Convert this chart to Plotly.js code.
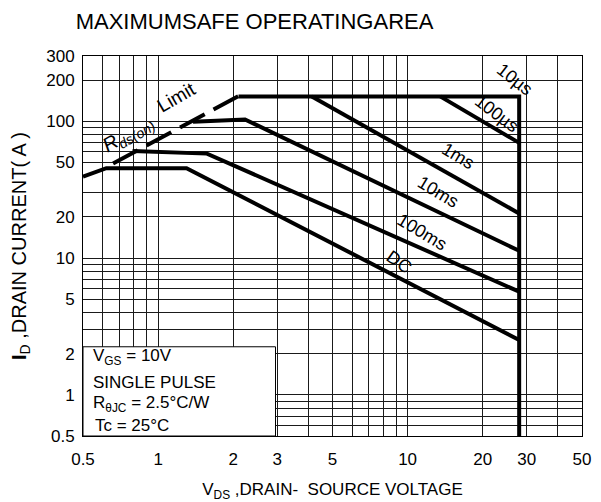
<!DOCTYPE html>
<html>
<head>
<meta charset="utf-8">
<script src="https://cdn.plot.ly/plotly-3.0.1.min.js"></script>
<style>html,body{margin:0;padding:0;background:#fff;}#chart{width:601px;height:502px;}</style>
</head>
<body>
<div id="chart"></div>
<script>
// ---- data (V in volts, I in amperes) ----
const vDC = [0.5, 0.62, 1.30, 28];
const iDC = [39.3, 45.4, 45.4, 2.52];
const v100ms = [0.79, 1.57, 28];
const i100ms = [60.5, 58, 5.68];
const v10ms = [1.38, 2.23, 28];
const i10ms = [99, 103, 11.3];
const v1ms = [4.13, 28];
const i1ms = [152, 21.2];
const v100us = [13.5, 28];
const i100us = [152, 69.5];
const v10us = [2.10, 28, 28];
const i10us = [152, 152, 0.5];
const vRds = [0.66, 2.10];
const iRds = [49.2, 153];

const xTickVals = [0.5, 1, 2, 3, 5, 10, 20, 30, 50];
const xTickText = ['0.5', '1', '2', '3', '5', '10', '20', '30', '50'];
const xMinorVals = [0.6, 0.7, 0.8, 0.9, 4, 6, 7, 8, 9, 40];
const yTickVals = [0.5, 1, 2, 5, 10, 20, 50, 100, 200, 300];
const yTickText = ['0.5', '1', '2', '5', '10', '20', '50', '100', '200', '300'];
const yMinorVals = [0.6, 0.7, 0.8, 0.9, 3, 4, 6, 7, 8, 9, 30, 60, 70, 80, 90];

const curveLabels = ['10µs', '100µs', '1ms', '10ms', '100ms', 'DC'];
const noteLines = ['V<sub>GS</sub> = 10V', 'SINGLE PULSE', 'R<sub>θJC</sub> = 2.5°C/W', 'Tc = 25°C'];

// ---- drawing ----
const FONT = 'Liberation Sans, Arial, sans-serif';
const solid = (x, y) => ({x: x, y: y, type: 'scatter', mode: 'lines',
  line: {color: '#000', width: 4}, hoverinfo: 'skip', showlegend: false});

const traces = [
  solid(vDC, iDC), solid(v100ms, i100ms), solid(v10ms, i10ms),
  solid(v1ms, i1ms), solid(v100us, i100us), solid(v10us, i10us),
  {x: vRds, y: iRds, type: 'scatter', mode: 'lines',
   line: {color: '#000', width: 4, dash: '28px,10px'}, hoverinfo: 'skip', showlegend: false}
];

const gridC = '#1a1a1a';
const px2x = p => (p - 83) / 499;
const px2y = p => (436 - p) / 380.3;

const labelPos = [[514, 79, 38], [496, 113, 37], [458, 156, 31], [438, 192, 31], [422, 232, 31], [399, 262, 35]];
const annotations = curveLabels.map((t, k) => ({
  text: t, xref: 'paper', yref: 'paper', x: px2x(labelPos[k][0]), y: px2y(labelPos[k][1]),
  xanchor: 'center', yanchor: 'middle', textangle: labelPos[k][2], showarrow: false,
  font: {family: FONT, size: 18, color: '#000'}
}));
annotations.push({text: '<i>R</i><sub><i>ds(on)</i></sub>', xref: 'paper', yref: 'paper',
  x: px2x(128), y: px2y(134), xanchor: 'center', yanchor: 'middle', textangle: -30, showarrow: false,
  font: {family: FONT, size: 20, color: '#000'}});
annotations.push({text: 'Limit', xref: 'paper', yref: 'paper',
  x: px2x(176), y: px2y(97), xanchor: 'center', yanchor: 'middle', textangle: -30, showarrow: false,
  font: {family: FONT, size: 19, color: '#000'}});
const noteY = [357, 382, 404, 425];
const noteX = [91, 91, 91, 93];
noteLines.forEach((t, k) => annotations.push({text: t, xref: 'paper', yref: 'paper',
  x: px2x(noteX[k]), y: px2y(noteY[k]), xanchor: 'left', yanchor: 'middle', showarrow: false,
  font: {family: FONT, size: 17, color: '#000'}}));

const layout = {
  width: 601, height: 502,
  margin: {l: 83, r: 19, t: 56, b: 66},
  paper_bgcolor: '#fff', plot_bgcolor: '#fff',
  font: {family: FONT, color: '#000'},
  title: {text: 'MAXIMUMSAFE OPERATINGAREA', x: 0.4235, xref: 'container', xanchor: 'center',
          y: 0.958, yref: 'container', yanchor: 'middle',
          font: {family: FONT, size: 22, color: '#000'}},
  xaxis: {type: 'log', range: [Math.log10(0.5), Math.log10(50)],
          tickmode: 'array', tickvals: xTickVals, ticktext: xTickText, ticks: '',
          ticklabelstandoff: 8,
          tickfont: {family: FONT, size: 17, color: '#000'},
          showgrid: true, gridcolor: gridC, gridwidth: 1, zeroline: false,
          showline: true, linecolor: '#000', linewidth: 1, mirror: true,
          minor: {tickmode: 'array', tickvals: xMinorVals, showgrid: true, gridcolor: gridC, gridwidth: 1, ticks: ''},
          title: {text: 'V<sub>DS</sub> ,DRAIN-\u00a0 SOURCE VOLTAGE', standoff: 16,
                  font: {family: FONT, size: 17, color: '#000'}},
          automargin: false, fixedrange: true},
  yaxis: {type: 'log', range: [Math.log10(0.5), Math.log10(300)],
          tickmode: 'array', tickvals: yTickVals, ticktext: yTickText, ticks: '',
          ticklabelstandoff: 4,
          tickfont: {family: FONT, size: 17, color: '#000'},
          showgrid: true, gridcolor: gridC, gridwidth: 1, zeroline: false,
          showline: true, linecolor: '#000', linewidth: 1, mirror: true,
          minor: {tickmode: 'array', tickvals: yMinorVals, showgrid: true, gridcolor: gridC, gridwidth: 1, ticks: ''},
          title: {text: '<b>I</b><sub>D</sub> ,DRAIN CURRENT( A )', standoff: 14,
                  font: {family: FONT, size: 20, color: '#000'}},
          automargin: false, fixedrange: true},
  shapes: [{type: 'rect', xref: 'paper', yref: 'paper', x0: 0, x1: px2x(275.5), y0: 0, y1: px2y(346.7),
            fillcolor: '#fff', line: {color: '#000', width: 1}, layer: 'above'}],
  annotations: annotations
};

Plotly.newPlot('chart', traces, layout, {staticPlot: true, displayModeBar: false});
</script>
</body>
</html>
